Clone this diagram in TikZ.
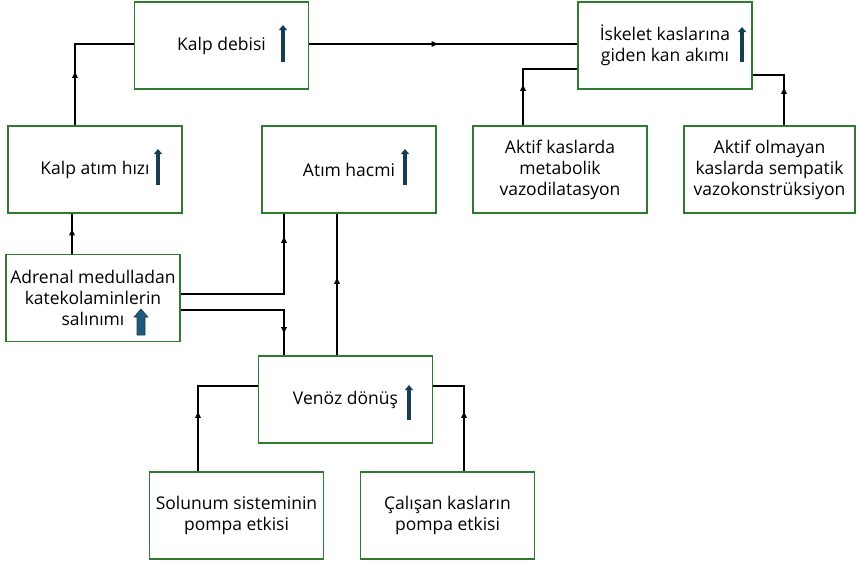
\documentclass[tikz,border=0pt]{standalone}
\usepackage{fontspec}
\setmainfont{Open Sans}
\usetikzlibrary{arrows.meta,decorations.markings}
\definecolor{boxgreen}{HTML}{2E7A2E}
\definecolor{navyup}{HTML}{163E52}
\definecolor{tealup}{HTML}{1D5B78}
\tikzset{
  box/.style={draw=boxgreen,line width=1.1pt,minimum width=174,minimum height=87,align=center,inner sep=1pt},
  link/.style={line width=2pt},
  flow/.style={postaction={decorate},decoration={markings,mark=at position #1 with {\arrow{Triangle[length=6.5pt,width=5.5pt]}}}},
  upmark/.style={navyup,line width=4.2pt,-{Triangle[length=5pt,width=8pt]}}
}

\begin{document}
\begin{tikzpicture}[x=1pt,y=-1pt,font=\fontsize{17.5}{21}\selectfont]
\useasboundingbox (0,0) rectangle (856,565);
% boxes
\node[box] (debisi) at (221.5,45.5) {Kalp debisi};
\node[box] (iskelet) at (665,45.5) {İskelet kaslarına\\giden kan akımı};
\node[box] (hiz) at (95,169.5) {Kalp atım hızı};
\node[box] (hacim) at (349,169.5) {Atım hacmi};
\node[box] (metab) at (560,169.5) {Aktif kaslarda\\metabolik\\vazodilatasyon};
\node[box,minimum width=171] (konstr) at (769.5,169.5) {Aktif olmayan\\kaslarda sempatik\\vazokonstrüksiyon};
\node[box] (adrenal) at (93,298) {Adrenal medulladan\\katekolaminlerin\\salınımı};
\node[box] (venoz) at (345.5,399.5) {Venöz dönüş};
\node[box] (solunum) at (236.5,515.5) {Solunum sisteminin\\pompa etkisi};
\node[box] (calisan) at (447.5,515.5) {Çalışan kasların\\pompa etkisi};
% increase marks
\draw[upmark] (debisi.center) ++(61.5,16.5) -- ++(0,-37);
\draw[upmark] (iskelet.center) ++(77,16.5) -- ++(0,-35);
\draw[upmark] (hiz.center) ++(63,15.5) -- ++(0,-36);
\draw[upmark] (hacim.center) ++(56,15.5) -- ++(0,-36);
\draw[upmark] (venoz.center) ++(63.5,20.5) -- ++(0,-35);
\filldraw[fill=tealup,draw=navyup,line width=0.6pt] (adrenal.center) ++(44,37) -- ++(8,0) -- ++(0,-18) -- ++(3,0) -- ++(-7,-8) -- ++(-7,8) -- ++(3,0) -- cycle;
% links
\draw[link,flow=54pt] ([xshift=-20]hiz.north) |- ([yshift=1.5]debisi.west);
\draw[link,flow=25pt] ([xshift=-21]adrenal.north) -- ([xshift=-23]hiz.south);
\draw[link,flow=161pt] ([yshift=4]adrenal.east) -| ([xshift=-65]hacim.south);
\draw[link,flow=127pt] ([yshift=-12]adrenal.east) -| ([xshift=-61.5]venoz.north);
\draw[link,flow=78pt] ([xshift=-8.5]venoz.north) -- ([xshift=-12]hacim.south);
\draw[link,flow=60pt] ([xshift=-38.5]solunum.north) |- ([yshift=13.5]venoz.west);
\draw[link,flow=60pt] ([xshift=16.5]calisan.north) |- ([yshift=13.5]venoz.east);
\draw[link,flow=129pt] ([yshift=1.5]debisi.east) -- ([yshift=1.5]iskelet.west);
\draw[link,flow=41pt] ([xshift=-37]metab.north) |- ([yshift=-23.5]iskelet.west);
\draw[link,flow=38pt] ([xshift=14.5]konstr.north) |- ([yshift=-29.5]iskelet.east);
\end{tikzpicture}
\end{document}
